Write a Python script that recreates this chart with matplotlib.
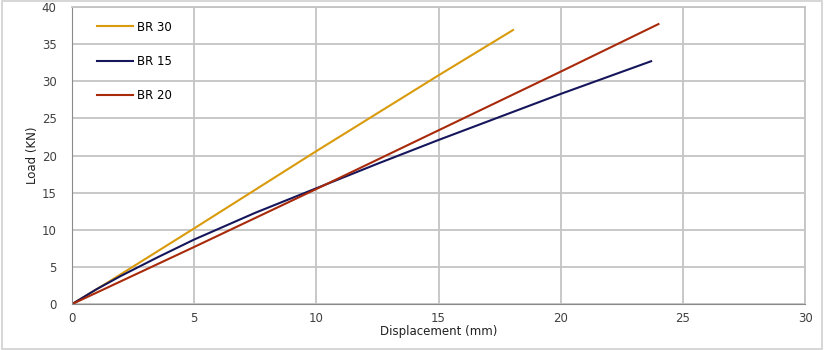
import matplotlib
matplotlib.use("Agg")
import matplotlib.pyplot as plt
from matplotlib.patches import Rectangle

# displacement (mm) / load (kN) readings per specimen
br30_disp = [0, 1.0, 1.5, 5, 10, 15, 18.05]
br30_load = [0, 2.0, 3.0, 10.2, 20.6, 30.8, 36.9]

br15_disp = [0, 1.0, 2.0, 3.5, 5, 7.5, 10, 12.5, 15, 20, 23.7]
br15_load = [0, 2.0, 3.8, 6.3, 8.7, 12.3, 15.6, 18.9, 22.1, 28.3, 32.7]

br20_disp = [0, 5, 10, 15, 20, 24.0]
br20_load = [0, 7.7, 15.5, 23.4, 31.3, 37.7]

x_ticks = [0, 5, 10, 15, 20, 25, 30]
y_ticks = [0, 5, 10, 15, 20, 25, 30, 35, 40]

plt.rcParams['font.family'] = ['DejaVu Sans']

fig = plt.figure(figsize=(8.24, 3.5), dpi=100)
ax = fig.add_axes([0.0874, 0.131, 0.8896, 0.849])

ax.plot(br30_disp, br30_load, color='#D99A0B', lw=1.5, label='BR 30')
ax.plot(br15_disp, br15_load, color='#16165C', lw=1.5, label='BR 15')
ax.plot(br20_disp, br20_load, color='#A82A0A', lw=1.5, label='BR 20')

ax.set_xlim(0, 30)
ax.set_ylim(0, 40)
ax.set_xticks(x_ticks)
ax.set_yticks(y_ticks)
ax.tick_params(length=0, labelsize=8.5, colors='#404040')
ax.tick_params(axis='y', pad=11)
ax.tick_params(axis='x', pad=6)
ax.grid(True, color='#c4c4c4', lw=1.3)
ax.set_axisbelow(True)
for side in ['top', 'right']:
    ax.spines[side].set_color('#c4c4c4')
    ax.spines[side].set_linewidth(1.3)
ax.spines['left'].set_color('#8a8a8a')
ax.spines['bottom'].set_color('#8a8a8a')

ax.set_xlabel('Displacement (mm)', fontsize=8.5, color='#202020', labelpad=0)
ax.set_ylabel('Load (KN)', fontsize=8.5, color='#202020', labelpad=2)

ax.legend(loc='upper left', frameon=False, fontsize=8.5, labelspacing=1.8,
          handlelength=3.0, handletextpad=0.4,
          bbox_to_anchor=(0.02, 0.99))

fig.patches.append(Rectangle((0.002, 0.003), 0.996, 0.994, transform=fig.transFigure,
                             fill=False, edgecolor='#d0d0d0', lw=1.2))

fig.savefig('out.png', dpi=100)
